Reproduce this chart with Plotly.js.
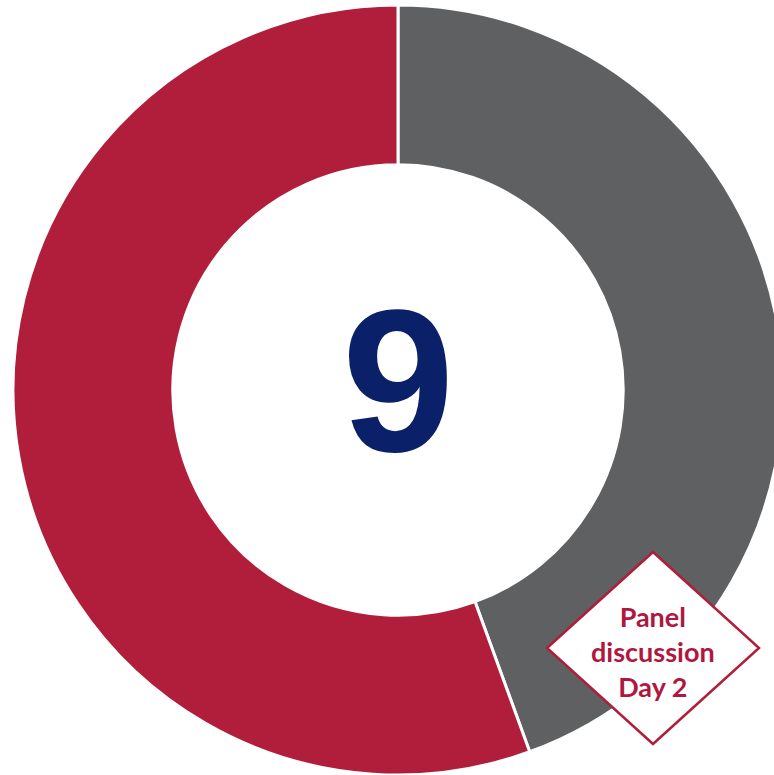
<!DOCTYPE html>
<html>
<head>
<meta charset="utf-8">
<script src="https://cdn.plot.ly/plotly-3.0.1.min.js"></script>
<style>
html, body { margin: 0; padding: 0; overflow: hidden; background: #ffffff; }
#chart { width: 796px; height: 780px; }
</style>
</head>
<body>
<div id="chart"></div>
<script>
// Data
const categories = ["Panel discussion Day 2", "Other"];
const values = [4, 5];
const colors = ["#5f6062", "#b01e3b"];
const centerLabel = "9";
const calloutLabel = "Panel<br>discussion<br>Day 2";

// Layout geometry (pixels)
const W = 796, H = 780;
const cx = 398, cy = 390, R = 385;
const px = x => x / W;
const py = y => (H - y) / H;

const dcx = 653, dcy = 648, dhw = 106, dhh = 96;
const diamond = `M ${px(dcx)} ${py(dcy - dhh)} L ${px(dcx + dhw)} ${py(dcy)} L ${px(dcx)} ${py(dcy + dhh)} L ${px(dcx - dhw)} ${py(dcy)} Z`;

const data = [{
  type: "pie",
  labels: categories,
  values: values,
  hole: 0.585,
  sort: false,
  direction: "clockwise",
  rotation: 0,
  textinfo: "none",
  hoverinfo: "label+value",
  marker: { colors: colors, line: { color: "#ffffff", width: 3 } },
  domain: { x: [0, 1], y: [py(cy + R), py(cy - R)] },
  showlegend: false
}];

const layout = {
  width: W,
  height: H,
  margin: { l: 0, r: 0, t: 0, b: 0 },
  paper_bgcolor: "#ffffff",
  plot_bgcolor: "#ffffff",
  showlegend: false,
  shapes: [{
    type: "path",
    xref: "paper", yref: "paper",
    path: diamond,
    fillcolor: "#ffffff",
    line: { color: "#b01e3b", width: 2.5 }
  }],
  annotations: [
    {
      text: centerLabel,
      xref: "paper", yref: "paper",
      x: px(398), y: py(381),
      xanchor: "center", yanchor: "middle",
      showarrow: false,
      font: { family: "Liberation Sans, Arial, sans-serif", size: 202, color: "#0a2069", weight: "bold" }
    },
    {
      text: "<b>" + calloutLabel + "</b>",
      xref: "paper", yref: "paper",
      x: px(dcx), y: py(dcy + 3),
      xanchor: "center", yanchor: "middle",
      showarrow: false,
      align: "center",
      font: { family: "Lato, Open Sans, sans-serif", size: 27, color: "#b0173f" }
    }
  ]
};

Plotly.newPlot("chart", data, layout, { displayModeBar: false, staticPlot: true });
</script>
</body>
</html>
